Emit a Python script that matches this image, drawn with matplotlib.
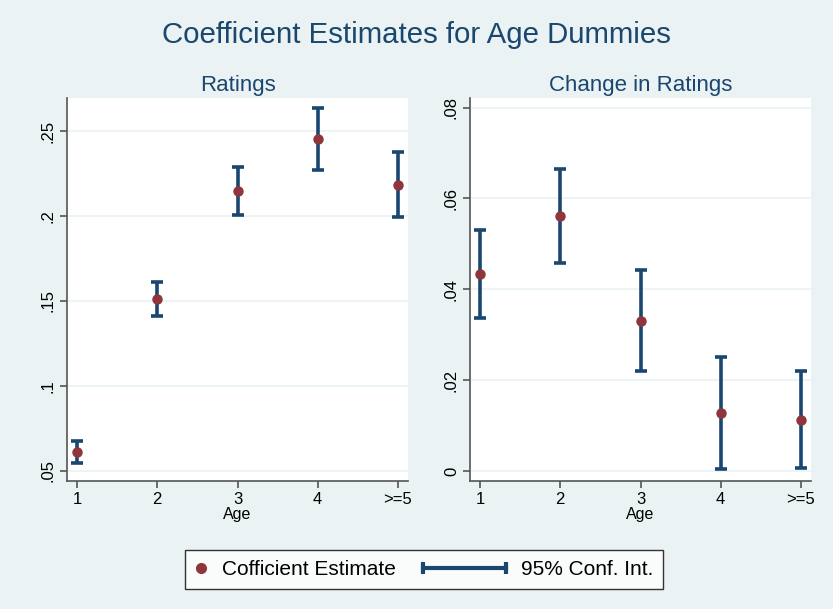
import matplotlib.pyplot as plt
from matplotlib.lines import Line2D
from matplotlib.legend_handler import HandlerBase

# Data
ages = ['1', '2', '3', '4', '>=5']
x = [1, 2, 3, 4, 5]

rating_est = [0.0612, 0.1512, 0.2147, 0.2451, 0.2181]
rating_lo = [0.0549, 0.1410, 0.2008, 0.2271, 0.1994]
rating_hi = [0.0678, 0.1612, 0.2290, 0.2635, 0.2375]

change_est = [0.0433, 0.0561, 0.0331, 0.0128, 0.0113]
change_lo = [0.0337, 0.0457, 0.0220, 0.0004, 0.0007]
change_hi = [0.0531, 0.0665, 0.0443, 0.0251, 0.0220]

left_ticks = [0.05, 0.1, 0.15, 0.2, 0.25]
left_labels = ['.05', '.1', '.15', '.2', '.25']
right_ticks = [0, 0.02, 0.04, 0.06, 0.08]
right_labels = ['0', '.02', '.04', '.06', '.08']

bg = '#EAF2F3'
navy = '#1A476F'
maroon = '#90353B'

plt.rcParams['font.family'] = ['Liberation Sans', 'DejaVu Sans']

W, H = 833, 609
fig = plt.figure(figsize=(W / 100, H / 100), dpi=100, facecolor=bg)


def px_axes(x0, y0, x1, y1):
    return fig.add_axes([x0 / W, (H - y1) / H, (x1 - x0) / W, (y1 - y0) / H])


def panel(ax, est, lo, hi, ticks, labels, ylim, title):
    ax.set_facecolor('white')
    yerr = [[e - l for e, l in zip(est, lo)], [h - e for e, h in zip(est, hi)]]
    ax.errorbar(x, est, yerr=yerr, fmt='none', ecolor=navy, elinewidth=2.6,
                capsize=4.5, capthick=2.6, zorder=2)
    ax.plot(x, est, 'o', color=maroon, markersize=6.5, zorder=3)
    ax.set_xlim(0.875, 5.125)
    ax.set_ylim(*ylim)
    ax.set_xticks(x)
    ax.set_xticklabels(ages, fontsize=12)
    ax.set_yticks(ticks)
    ax.set_yticklabels(labels, fontsize=12, rotation=90, va='center')
    ax.grid(axis='y', color=bg, linewidth=1.2)
    ax.set_axisbelow(True)
    for s in ['top', 'right']:
        ax.spines[s].set_visible(False)
    for s in ['left', 'bottom']:
        ax.spines[s].set_color('#555555')
        ax.spines[s].set_linewidth(1.2)
    ax.tick_params(colors='#555555', length=5, width=1.2, labelcolor='black', pad=3)
    ax.set_xlabel('Age', fontsize=11.5, labelpad=0)
    ax.set_title(title, fontsize=16, color=navy, pad=5)


ax1 = px_axes(67, 98, 408, 481)
panel(ax1, rating_est, rating_lo, rating_hi, left_ticks, left_labels,
      (0.0441, 0.2694), 'Ratings')

ax2 = px_axes(470, 98, 811, 481)
panel(ax2, change_est, change_lo, change_hi, right_ticks, right_labels,
      (-0.0022, 0.0821), 'Change in Ratings')

fig.text(0.5, 1 - 35 / H, 'Coefficient Estimates for Age Dummies',
         ha='center', va='center', fontsize=21.2, color=navy)


class CapLineHandler(HandlerBase):
    """Horizontal capped line that reaches left past its small handle box."""
    def create_artists(self, legend, orig_handle, xdescent, ydescent,
                       width, height, fontsize, trans):
        y = height / 2 - ydescent
        x1 = width - xdescent
        x0 = x1 - 60
        line = Line2D([x0, x1], [y, y], color=navy, linewidth=3,
                      marker='|', markersize=8, markeredgewidth=3,
                      transform=trans)
        return [line]


dot = Line2D([], [], marker='o', linestyle='none', color=maroon, markersize=7)
ci = Line2D([], [], color=navy)
leg = fig.legend([dot, ci], ['Cofficient Estimate', '95% Conf. Int.'],
                 loc='center', bbox_to_anchor=(424 / W, 1 - 569.5 / H), ncol=2,
                 fontsize=15, frameon=True, fancybox=False, edgecolor='black',
                 handlelength=0.6, columnspacing=4.7, handletextpad=0.7,
                 borderpad=0.48, borderaxespad=0,
                 handler_map={ci: CapLineHandler()})
leg.get_frame().set_linewidth(1.0)

fig.savefig('out.png', dpi=100, facecolor=bg)
